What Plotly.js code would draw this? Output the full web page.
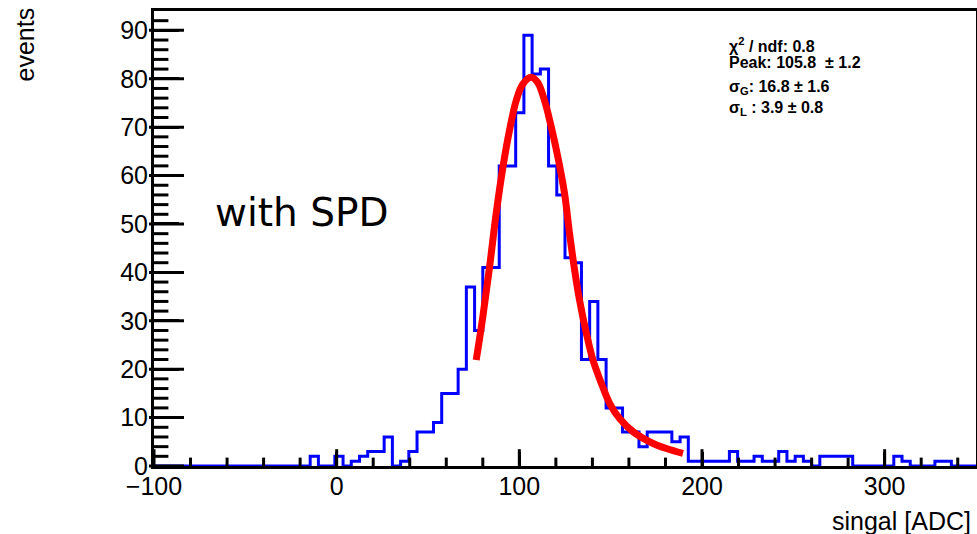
<!DOCTYPE html>
<html>
<head>
<meta charset="utf-8">
<script src="https://cdn.plot.ly/plotly-3.0.1.min.js"></script>
<style>html,body{margin:0;padding:0;background:#fff;}#chart{width:977px;height:534px;}</style>
</head>
<body>
<div id="chart"></div>
<script>
// Histogram binning (ROOT TH1: 100 bins from -100 to 350)
const binLow = -100;
const binWidth = 4.5;
const counts = [
  0,0,0,0,0,0,0,0,0,0,
  0,0,0,0,0,0,0,0,0,2,
  0,0,2,0,1,2,3,3,6,0,
  1,3,7,7,9,15,15,20,37,28,
  41,41,62,62,73,89,81,82,62,56,
  43,42,22,34,22,12,12,7,7,4,
  7,7,7,5,6,1,1,1,1,1,
  3,1,1,2,1,1,3,1,2,1,
  0,2,2,2,2,0,0,0,0,0,
  2,1,0,0,0,1,1,0,0,0
];

// Fit curve (Landau (x) Gauss)
const fitX = [76.4, 80.0, 83.7, 87.3, 91.0, 94.6, 98.3, 101.9, 106.5, 110.1, 113.8, 117.5, 121.1, 124.8, 127.5, 130.3, 133.0, 136.7, 140.3, 144.9, 149.5, 154.9, 162.2, 171.4, 180.5, 189.6];
const fitY = [21.9, 30.8, 41.1, 52.1, 61.7, 69.3, 75.5, 78.9, 80.3, 79.2, 75.5, 70.0, 63.8, 56.2, 48.0, 40.4, 34.2, 27.4, 21.9, 17.1, 12.9, 9.8, 7.1, 5.0, 3.6, 2.6];

// axis ticks (ROOT style: inside, major + minor)
const xMajorTicks = [-100, 0, 100, 200, 300];
const xMinorTicks = [-80, -60, -40, -20, 20, 40, 60, 80, 120, 140, 160, 180, 220, 240, 260, 280, 320, 340];
const yMajorTicks = [0, 10, 20, 30, 40, 50, 60, 70, 80, 90];
const yMinorTicks = [2, 4, 6, 8, 12, 14, 16, 18, 22, 24, 26, 28, 32, 34, 36, 38, 42, 44, 46, 48,
                     52, 54, 56, 58, 62, 64, 66, 68, 72, 74, 76, 78, 82, 84, 86, 88, 92];

const statLines = [
  "<b>χ<sup>2</sup> / ndf: 0.8</b>",
  "<b>Peak: 105.8  ± 1.2</b>",
  "<b>σ<sub>G</sub>: 16.8 ± 1.6</b>",
  "<b>σ<sub>L</sub> : 3.9 ± 0.8</b>"
];
const xTitle = "singal [ADC]";
const yTitle = "events";
const label = "with SPD";

const font = "Liberation Sans, Arial, Helvetica, sans-serif";
const xRange = [-100, 350];
const yRange = [0, 94];
const plotW = 822, plotH = 455;
const yUnitPerPx = (yRange[1] - yRange[0]) / plotH;
const xUnitPerPx = (xRange[1] - xRange[0]) / plotW;

// build step outline from bins
const hx = [], hy = [];
for (let i = 0; i < counts.length; i++) {
  hx.push(binLow + i * binWidth);
  hy.push(counts[i]);
}
hx.push(binLow + counts.length * binWidth);
hy.push(counts[counts.length - 1]);

// tick marks drawn as short line markers, centred half a tick length inside the frame
function tickTrace(vals, lenPx, isX) {
  const half = lenPx / 2;
  return {
    x: isX ? vals : vals.map(() => xRange[0] + half * xUnitPerPx),
    y: isX ? vals.map(() => yRange[0] + half * yUnitPerPx) : vals,
    type: "scatter", mode: "markers", cliponaxis: false, hoverinfo: "skip",
    marker: {symbol: isX ? "line-ns-open" : "line-ew-open", size: lenPx,
             color: "#000", line: {color: "#000", width: 3}}
  };
}

const traces = [
  {x: hx, y: hy, type: "scatter", mode: "lines",
   line: {shape: "hv", color: "#0000ff", width: 3}, hoverinfo: "skip"},
  {x: fitX, y: fitY, type: "scatter", mode: "lines",
   line: {shape: "spline", color: "#ff0000", width: 7}, hoverinfo: "skip"},
  tickTrace(xMajorTicks, 14, true),
  tickTrace(xMinorTicks, 7, true),
  tickTrace(yMajorTicks, 25, false),
  tickTrace(yMinorTicks, 12, false)
];

const statY = [0.925, 0.886, 0.831, 0.785];
const annotations = statLines.map((t, i) => ({
  text: t, xref: "paper", yref: "paper", x: 0.697, y: statY[i],
  xanchor: "left", yanchor: "middle", showarrow: false,
  font: {family: font, size: 16, color: "#000"}
}));
annotations.push({text: label, xref: "paper", yref: "paper", x: 0.0718, y: 0.558,
  xanchor: "left", yanchor: "middle", showarrow: false,
  font: {family: "DejaVu Sans, sans-serif", size: 39, color: "#000"}});
annotations.push({text: xTitle, xref: "paper", yref: "paper", x: 0.996, y: -0.121,
  xanchor: "right", yanchor: "middle", showarrow: false,
  font: {family: font, size: 25, color: "#000"}});
annotations.push({text: yTitle, xref: "paper", yref: "paper", x: -0.157, y: 1.012,
  xanchor: "center", yanchor: "top", textangle: -90, showarrow: false,
  font: {family: font, size: 25, color: "#000"}});

const layout = {
  width: 977, height: 534,
  margin: {l: 154, r: 1, t: 11, b: 68, pad: 0},
  paper_bgcolor: "#fff", plot_bgcolor: "#fff",
  showlegend: false,
  font: {family: font, size: 25, color: "#000"},
  xaxis: {
    range: xRange, showgrid: false, zeroline: false,
    showline: true, linecolor: "#000", linewidth: 3, mirror: true,
    ticks: "inside", ticklen: 14, tickwidth: 3, tickcolor: "#000",
    tickmode: "array", tickvals: xMajorTicks,
    tickfont: {family: font, size: 25, color: "#000"},
    ticklabelstandoff: -4
  },
  yaxis: {
    range: yRange, showgrid: false, zeroline: false,
    showline: true, linecolor: "#000", linewidth: 3, mirror: true,
    ticks: "inside", ticklen: 25, tickwidth: 3, tickcolor: "#000",
    tickmode: "array", tickvals: yMajorTicks,
    tickfont: {family: font, size: 25, color: "#000"},
    ticklabelstandoff: -2
  },
  annotations: annotations
};

Plotly.newPlot("chart", traces, layout, {staticPlot: true, displayModeBar: false});
</script>
</body>
</html>
